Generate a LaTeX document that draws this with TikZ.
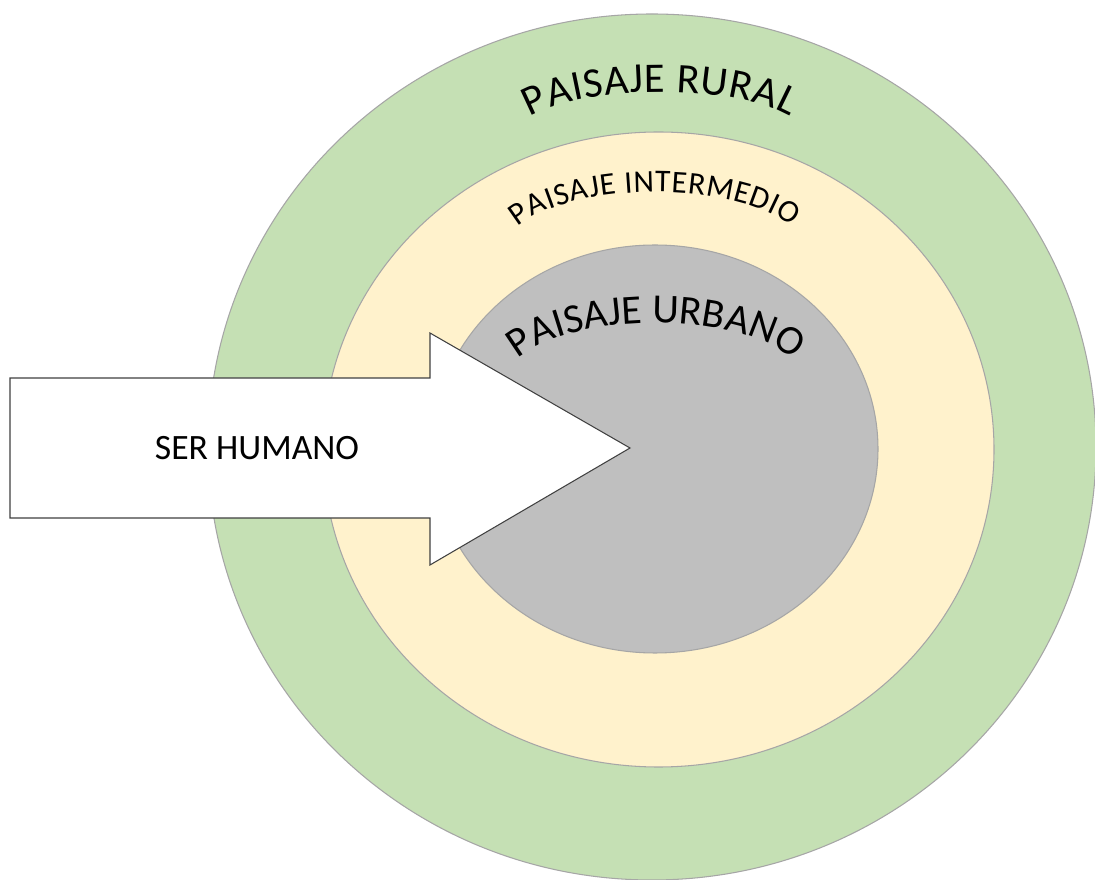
\documentclass[tikz,border=0pt]{standalone}
\usepackage{fontspec}
\setmainfont{Carlito}
\usetikzlibrary{decorations.text}
\definecolor{rural}{RGB}{197,224,180}
\definecolor{intermedio}{RGB}{255,242,204}
\definecolor{urbano}{RGB}{191,191,191}
\definecolor{rand}{RGB}{166,166,166}
\definecolor{pfeil}{RGB}{64,64,64}
\newcommand{\ruralfont}{\fontsize{24}{28}\selectfont}
\newcommand{\mediofont}{\fontsize{18}{22}\selectfont}
\newcommand{\urbefont}{\fontsize{23.5}{28}\selectfont}
\newcommand{\humanfont}{\fontsize{20.3}{24}\selectfont}
\tikzset{
    zone/.style={draw=rand, line width=0.6pt},
    arctext/.style={decorate, decoration={text along path, text align=fit to path, text={#1}}}
}

\begin{document}
\begin{tikzpicture}[x=0.02cm, y=0.02cm]

        \useasboundingbox (0,0) rectangle (1095,879);
        \fill[white] (0,0) rectangle (1095,879);  %Hintergrund

        \draw[zone, fill=rural] (652,432) ellipse [x radius=444, y radius=433];  %aeusserer Ring
        \draw[zone, fill=intermedio] (658.5,429.5) ellipse [x radius=335.5, y radius=317.5];  %mittlerer Ring
        \draw[zone, fill=urbano] (655,430) ellipse [x radius=223, y radius=204];  %Kern

        \path[arctext={|\ruralfont|PAISAJE RURAL}] (660,742) ++(153.7:145 and 45)
            arc [start angle=153.7, end angle=26.3, x radius=145, y radius=45];  %Bogentext aussen
        \path[arctext={|\mediofont|PAISAJE INTERMEDIO}] (655,628) ++(156:150 and 59)
            arc [start angle=156, end angle=24, x radius=150, y radius=59];  %Bogentext Mitte
        \path[arctext={|\urbefont|PAISAJE URBANO}] (655,496) ++(156:150 and 60)
            arc [start angle=156, end angle=24, x radius=150, y radius=60];  %Bogentext innen

        \draw[fill=white, draw=pfeil, line width=0.6pt] (10,501) -- (430,501) -- (430,546) -- (630,431)
            -- (430,314) -- (430,361) -- (10,361) -- cycle;  %der Pfeil
        \node[font=\humanfont] (mensch) at (257,431) {SER HUMANO};  %Pfeilbeschriftung

\end{tikzpicture}
\end{document}
